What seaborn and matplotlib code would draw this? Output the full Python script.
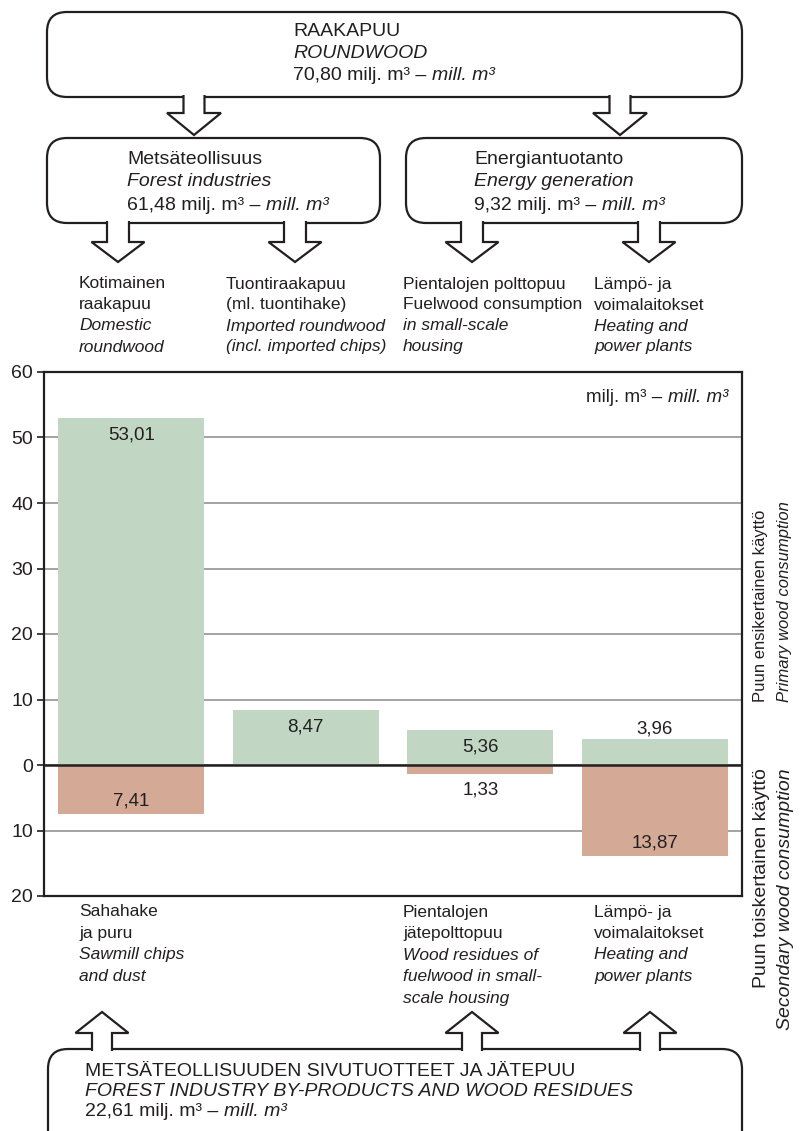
import matplotlib
matplotlib.use("Agg")
import matplotlib.pyplot as plt
import seaborn as sns
from matplotlib.patches import FancyBboxPatch, Polygon
from matplotlib.transforms import Affine2D

# chart data
categories = ["Kotimainen raakapuu", "Tuontiraakapuu", "Pientalojen polttopuu", "Lämpö- ja voimalaitokset"]
primary = [53.01, 8.47, 5.36, 3.96]
secondary = [7.41, 0.0, 1.33, 13.87]
ytick_values = [60, 50, 40, 30, 20, 10, 0, -10, -20]
ytick_labels = ["60", "50", "40", "30", "20", "10", "0", "10", "20"]

# flow totals (milj. m3)
roundwood_total = 70.80
forest_industries = 61.48
energy_generation = 9.32
byproducts_total = 22.61

top_labels = [
    ["Kotimainen", "raakapuu", "Domestic", "roundwood"],
    ["Tuontiraakapuu", "(ml. tuontihake)", "Imported roundwood", "(incl. imported chips)"],
    ["Pientalojen polttopuu", "Fuelwood consumption", "in small-scale", "housing"],
    ["Lämpö- ja", "voimalaitokset", "Heating and", "power plants"],
]
bottom_labels = [
    ["Sahahake", "ja puru", "Sawmill chips", "and dust"],
    [],
    ["Pientalojen", "jätepolttopuu", "Wood residues of", "fuelwood in small-", "scale housing"],
    ["Lämpö- ja", "voimalaitokset", "Heating and", "power plants"],
]

GREEN = "#c1d7c4"
BROWN = "#d4aa97"
INK = "#231f20"
GRID = "#8a8a8a"

sns.set_style("white")
plt.rcParams["font.family"] = ["Liberation Sans", "DejaVu Sans"]

W, H = 801, 1131
fig = plt.figure(figsize=(W / 100, H / 100), dpi=100)
renderer = fig.canvas.get_renderer()
# pixel coordinates measured from the top left corner
PX = Affine2D().scale(1 / W, -1 / H).translate(0, 1) + fig.transFigure


def fmt(v):
    return f"{v:.2f}".replace(".", ",")


def ftext(x, y, s, italic=False, size=14, **kw):
    return fig.text(x, y, s, transform=PX, fontsize=size, color=INK, va="center", zorder=7,
                    style="italic" if italic else "normal", **kw)


def unit_text(x, y, prefix="", size=14, right=False):
    # "milj. m³ – mill. m³" with the English part in italics
    regular = prefix + "milj. m³ – "
    italic = "mill. m³"
    if right:
        t = ftext(x, y, italic, italic=True, size=size, ha="right")
        w = t.get_window_extent(renderer).width
        ftext(x - w, y, regular, size=size, ha="right")
    else:
        t = ftext(x, y, regular, size=size)
        w = t.get_window_extent(renderer).width
        ftext(x + w, y, italic, italic=True, size=size)


def box(x0, y0, x1, y1):
    fig.add_artist(FancyBboxPatch((x0, y0), x1 - x0, y1 - y0,
                                  boxstyle="round,pad=0,rounding_size=20",
                                  transform=PX, fc="white", ec=INK, lw=1.6, zorder=4))


def arrow(cx, y_base, y_neck, y_tip, sw=21, hw=54):
    pts = [(cx - sw / 2, y_base), (cx - sw / 2, y_neck), (cx - hw / 2, y_neck), (cx, y_tip),
           (cx + hw / 2, y_neck), (cx + sw / 2, y_neck), (cx + sw / 2, y_base)]
    fig.add_artist(Polygon(pts, closed=False, transform=PX, fc="white", ec=INK,
                           lw=1.6, joinstyle="miter", zorder=5))


# --- flow boxes at the top ---
box(47, 12, 742, 97)
ftext(293, 32, "RAAKAPUU")
ftext(293, 53, "ROUNDWOOD", italic=True)
unit_text(293, 75, fmt(roundwood_total) + " ")
arrow(194, 95, 113, 135)
arrow(620, 95, 113, 135)

box(47, 138, 380, 223)
ftext(127, 160, "Metsäteollisuus")
ftext(127, 182, "Forest industries", italic=True)
unit_text(127, 205, fmt(forest_industries) + " ")

box(406, 138, 742, 223)
ftext(474, 160, "Energiantuotanto")
ftext(474, 182, "Energy generation", italic=True)
unit_text(474, 205, fmt(energy_generation) + " ")

for cx in [118, 295, 472, 649]:
    arrow(cx, 221, 242, 262, sw=22, hw=53)

label_x = [79, 226, 403, 594]
for x, lines in zip(label_x, top_labels):
    for j, s in enumerate(lines):
        ftext(x, 284 + 21 * j, s, italic=j >= 2, size=12.5)

# --- bar chart ---
ax = fig.add_axes([44 / W, 1 - 896 / H, (742 - 44) / W, (896 - 372) / H])
sns.barplot(x=categories, y=primary, color=GREEN, saturation=1, width=0.835,
            linewidth=0, ax=ax, zorder=2)
sns.barplot(x=categories, y=[-v for v in secondary], color=BROWN, saturation=1,
            width=0.835, linewidth=0, ax=ax, zorder=2)
ax.set_xlim(-0.5, 3.5)
ax.set_ylim(-20, 60)
ax.set_yticks(ytick_values)
ax.set_yticklabels(ytick_labels)
ax.set_xlabel("")
ax.set_ylabel("")
ax.tick_params(axis="x", bottom=False, labelbottom=False)
ax.tick_params(axis="y", left=True, length=5, width=1.2, color=INK, labelsize=14,
               labelcolor=INK, pad=3)
ax.yaxis.grid(True, color=GRID, lw=1.1)
ax.set_axisbelow(True)
ax.axhline(0, color=INK, lw=1.8, zorder=3)
for sp in ax.spines.values():
    sp.set_color(INK)
    sp.set_linewidth(1.6)

for i, v in enumerate(primary):
    dy = -12.5 if v >= 5 else 7
    ax.annotate(fmt(v), (i, v), xytext=(0, dy), textcoords="offset points",
                ha="center", va="center", fontsize=13.5, color=INK, zorder=4)
for i, v in enumerate(secondary):
    if v == 0:
        continue
    dy = 9 if v >= 5 else -11.5
    ax.annotate(fmt(v), (i, -v), xytext=(0, dy), textcoords="offset points",
                ha="center", va="center", fontsize=13.5, color=INK, zorder=4)

unit_text(728, 397, size=13.5, right=True)

# side labels
side = dict(transform=PX, rotation=90, rotation_mode="anchor", va="center", color=INK)
fig.text(761, 702, "Puun ensikertainen käyttö", ha="left", fontsize=12, **side)
fig.text(784, 702, "Primary wood consumption", ha="left", fontsize=12,
         style="italic", **side)
fig.text(761, 768, "Puun toiskertainen käyttö", ha="right", fontsize=14, **side)
fig.text(785, 768, "Secondary wood consumption", ha="right", fontsize=14,
         style="italic", **side)

for x, lines in zip(label_x, bottom_labels):
    for j, s in enumerate(lines):
        ftext(x, 912 + 21.5 * j, s, italic=j >= 2, size=12.5)

# --- by-products box at the bottom ---
box(48, 1049, 742, 1170)
for cx in [102, 472, 650]:
    arrow(cx, 1051, 1033, 1012, sw=20, hw=53)
ftext(85, 1072, "METSÄTEOLLISUUDEN SIVUTUOTTEET JA JÄTEPUU")
ftext(85, 1092, "FOREST INDUSTRY BY-PRODUCTS AND WOOD RESIDUES", italic=True)
unit_text(85, 1112, fmt(byproducts_total) + " ")

fig.savefig("out.png", dpi=100)
